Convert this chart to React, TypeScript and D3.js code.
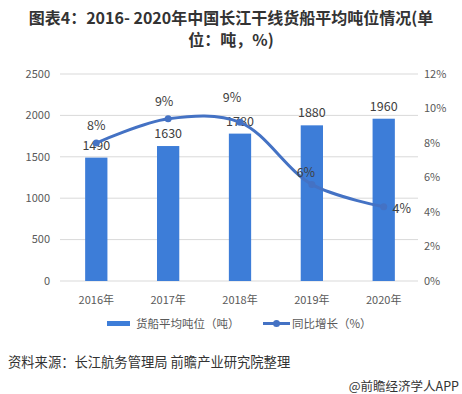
import React from 'react';
import * as d3 from 'd3';

const years = ['2016年', '2017年', '2018年', '2019年', '2020年'];
const tonnage = [1490, 1630, 1780, 1880, 1960];
const growth = [8.0, 9.4, 9.2, 5.6, 4.3];
const growthLabels = ['8%', '9%', '9%', '6%', '4%'];
const leftTicks = [0, 500, 1000, 1500, 2000, 2500];
const rightTicks = [0, 2, 4, 6, 8, 10, 12];

const W = 462, H = 394;
const FONT = '"Microsoft YaHei", "Noto Sans CJK SC", "Noto Sans", sans-serif';
const BAR = '#3d7dd8';
const LINE = '#4472c4';

export default function App() {
  const x = d3.scaleBand<string>().domain(years).range([60, 420]).paddingInner(0.69).paddingOuter(0.35);
  const yL = d3.scaleLinear().domain([0, 2500]).range([281, 74]);
  const yR = d3.scaleLinear().domain([0, 12]).range([281, 74]);
  const cx = (d: string) => (x(d) as number) + x.bandwidth() / 2;

  const line = d3.line<number>()
    .curve(d3.curveCatmullRom.alpha(0.5))
    .x((d, i) => cx(years[i]))
    .y(d => yR(d));

  // label offsets relative to point
  const pctOffsets = [[0, -17], [-4, -17], [-8, -25], [-6, -12], [18, 2]];

  return (
    <svg width={W} height={H} style={{ position: 'absolute', left: 0, top: 0, background: '#fff' }} fontFamily={FONT}>
      <text x={231} y={24} textAnchor="middle" fontSize={16} fontWeight="bold" fill="#333">
        图表4：2016- 2020年中国长江干线货船平均吨位情况(单
      </text>
      <text x={231} y={46} textAnchor="middle" fontSize={16} fontWeight="bold" fill="#333">
        位：吨，%)
      </text>

      {leftTicks.map(t => (
        <g key={t}>
          <line x1={60} x2={418} y1={yL(t)} y2={yL(t)} stroke="#d9d9d9" strokeWidth={1} />
          <text x={50} y={yL(t)} dy="0.35em" textAnchor="end" fontSize={11} fill="#595959">{t}</text>
        </g>
      ))}
      {rightTicks.map(t => (
        <text key={t} x={424} y={yR(t)} dy="0.35em" textAnchor="start" fontSize={11} fill="#595959">{t}%</text>
      ))}

      {years.map((y, i) => (
        <g key={y}>
          <rect x={x(y)} y={yL(tonnage[i])} width={x.bandwidth()} height={yL(0) - yL(tonnage[i])} fill={BAR} />
          <text x={cx(y)} y={yL(tonnage[i]) - 8} textAnchor="middle" fontSize={12.5} fill="#404040">{tonnage[i]}</text>
          <text x={cx(y)} y={300} dy="0.35em" textAnchor="middle" fontSize={11} fill="#595959">{y}</text>
        </g>
      ))}

      <path d={line(growth) || ''} fill="none" stroke={LINE} strokeWidth={3} strokeLinecap="round" />
      {growth.map((g, i) => (
        <g key={i}>
          <circle cx={cx(years[i])} cy={yR(g)} r={3.5} fill={LINE} />
          <text x={cx(years[i]) + pctOffsets[i][0]} y={yR(g) + pctOffsets[i][1]} dy="0.35em" textAnchor="middle" fontSize={12.5} fill="#404040">
            {growthLabels[i]}
          </text>
        </g>
      ))}

      <rect x={107} y={321} width={23} height={5} fill={BAR} />
      <text x={136} y={323.5} dy="0.35em" fontSize={11.5} fill="#595959">货船平均吨位（吨）</text>
      <line x1={263} x2={290} y1={323.5} y2={323.5} stroke={LINE} strokeWidth={3} />
      <circle cx={276.5} cy={323.5} r={3.5} fill={LINE} />
      <text x={292} y={323.5} dy="0.35em" fontSize={11.5} fill="#595959">同比增长（%）</text>

      <text x={8} y={362} dy="0.35em" fontSize={13.3} fill="#333">资料来源：长江航务管理局 前瞻产业研究院整理</text>
      <text x={459} y={387} dy="0.35em" textAnchor="end" fontSize={12.5} fill="#333">@前瞻经济学人APP</text>
    </svg>
  );
}
